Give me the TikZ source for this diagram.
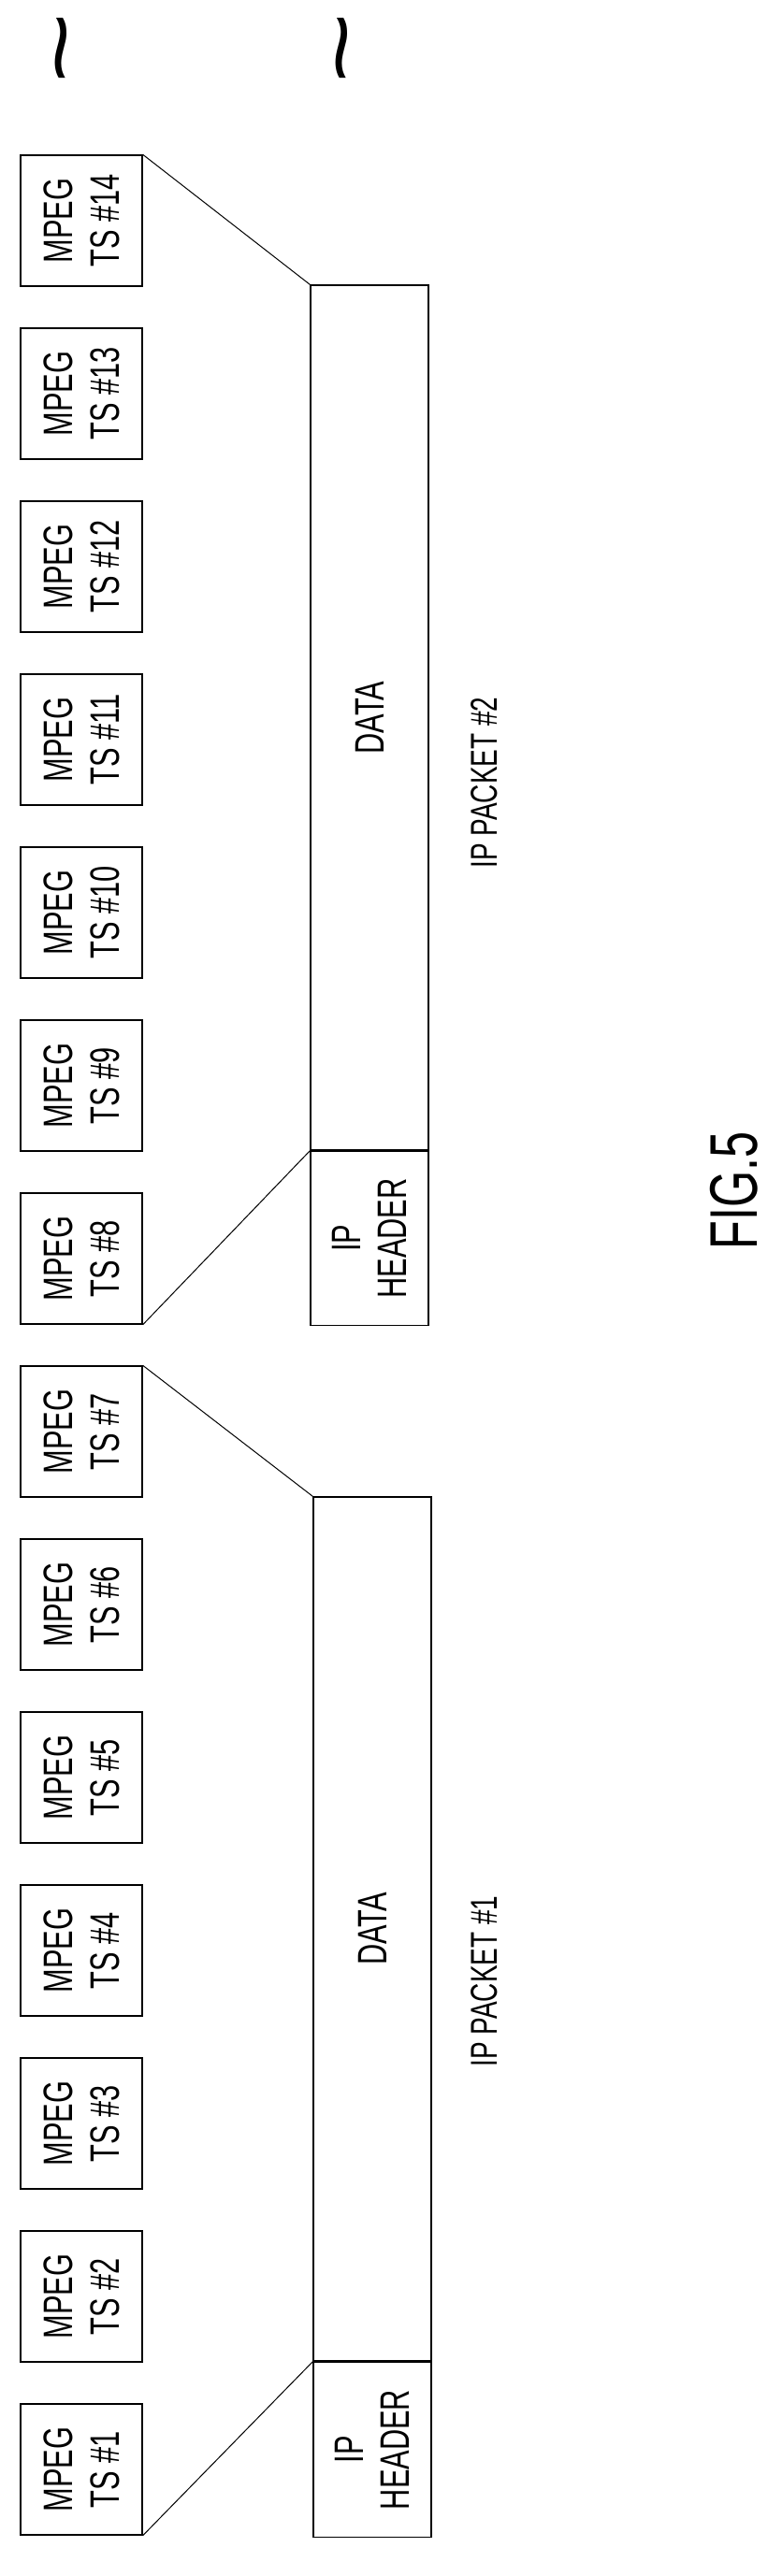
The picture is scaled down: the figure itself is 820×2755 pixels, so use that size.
\documentclass[tikz,border=0pt]{standalone}
\usepackage{fontspec}
\setmainfont{Liberation Sans}
\usepackage{tikz}

\newcommand{\narrow}[1]{\scalebox{0.7}[1]{#1}}
\newcommand{\upright}[1]{\rotatebox{90}{\narrow{\shortstack{#1}}}}

\begin{document}
\begin{tikzpicture}[x=1pt,y=-1pt,
    tsbox/.style={draw, line width=1.4pt, minimum width=130pt, minimum height=140pt,
      inner sep=0pt, font=\fontsize{44}{52}\selectfont},
    part/.style={draw, line width=1.4pt, minimum width=126pt, inner sep=0pt,
      font=\fontsize{44}{52}\selectfont},
    link/.style={line width=1pt}]
    \useasboundingbox (0,0) rectangle (820,2755);
    \def\pitch{185}

    % Transport stream packets
    \foreach \i in {1,...,14}{
      \node[tsbox] (ts\i) at (87, {236+(14-\i)*\pitch}) {\upright{MPEG\\[16pt]TS \#\i}};
    }

    % IP packet #2
    \node[part, minimum height=925pt] (data2) at (395, 767.5) {\upright{DATA}};
    \node[part, minimum height=186pt, anchor=north] (head2) at (data2.south) {\upright{IP\\[16pt]HEADER}};
    \node[font=\fontsize{40}{48}\selectfont] (lab2) at (518, 837) {\upright{IP PACKET \#2}};

    % IP packet #1
    \node[part, minimum height=924pt] (data1) at (398, 2063) {\upright{DATA}};
    \node[part, minimum height=187pt, anchor=north] (head1) at (data1.south) {\upright{IP\\[16pt]HEADER}};
    \node[font=\fontsize{40}{48}\selectfont] (lab1) at (518, 2119) {\upright{IP PACKET \#1}};

    % Mapping lines
    \draw[link] (ts14.north east) -- (data2.north west);
    \draw[link] (ts8.south east) -- (head2.north west);
    \draw[link] (ts7.north east) -- (data1.north west);
    \draw[link] (ts1.south east) -- (head1.north west);

    % Continuation marks
    \node[font=\fontsize{50}{50}\selectfont] (cont1) at (79, 52) {\rotatebox{90}{\scalebox{2.6}[2]{\~{}}}};
    \node[font=\fontsize{50}{50}\selectfont] (cont2) at (379, 52) {\rotatebox{90}{\scalebox{2.6}[2]{\~{}}}};

    \node[font=\fontsize{72}{72}\selectfont] (fig) at (785, 1273) {\upright{FIG.5}};
\end{tikzpicture}
\end{document}
